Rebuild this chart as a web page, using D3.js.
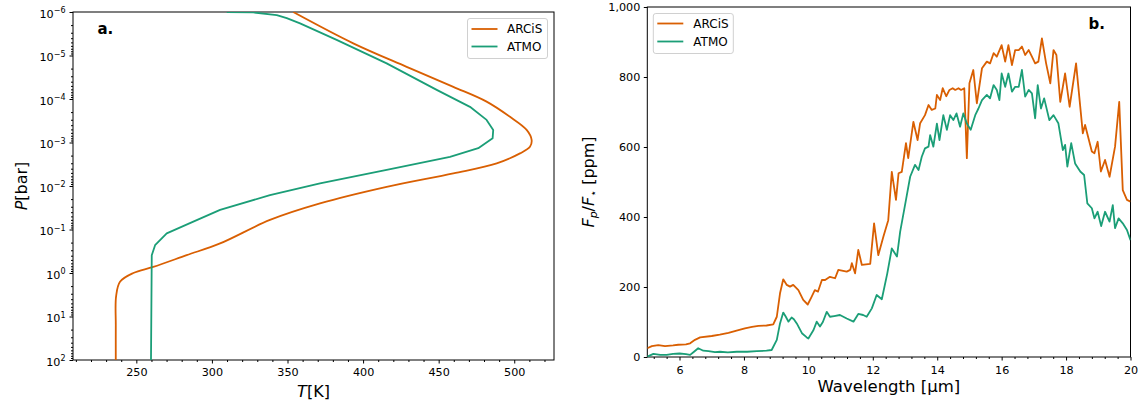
<!DOCTYPE html>
<html><head><meta charset="utf-8">
<script src="https://cdn.jsdelivr.net/npm/d3@7"></script>
<style>body{margin:0;background:#fff} text{font-family:"DejaVu Sans",sans-serif;fill:#000}</style>
</head><body><svg id="c" width="1143" height="408"></svg>
<script>
const seriesNames = ["ARCiS", "ATMO"];
const seriesColors = ["#d95f02", "#1b9e77"];

// Panel a: pressure-temperature profiles (T in K, log10 P in bar)
const arcisT    = [353.8, 393.5, 428.8, 459.7, 481.7, 497.2, 508.2, 511.5, 510.4, 503.8, 488.4, 459.7, 415.6, 371.5, 338.4, 305.4, 283.3, 261.2, 248.0, 239.2, 236.6, 236.4, 236.4];
const arcisLogP = [-6.0, -5.28, -4.74, -4.28, -3.94, -3.59, -3.29, -3.06, -2.90, -2.75, -2.52, -2.29, -1.98, -1.60, -1.22, -0.68, -0.41, -0.14, 0.0, 0.20, 0.54, 1.2, 2.0];
const atmoT     = [309.8, 327.4, 342.9, 349.5, 358.3, 382.5, 415.6, 448.7, 470.7, 481.7, 486.1, 485.7, 476.2, 457.5, 415.6, 371.5, 338.4, 305.4, 287.7, 270.1, 262.4, 260.2, 259.7];
const atmoLogP  = [-6.0, -5.99, -5.93, -5.86, -5.74, -5.36, -4.82, -4.21, -3.82, -3.52, -3.29, -3.10, -2.87, -2.67, -2.37, -2.06, -1.79, -1.45, -1.18, -0.91, -0.64, -0.41, 2.0];

// Panel b: emission spectra (wavelength in µm, Fp/F* in ppm)
const arcisWl = [5.0, 5.14, 5.34, 5.55, 5.8, 5.96, 6.2, 6.33, 6.48, 6.64, 7.0, 7.25, 7.52, 7.8, 8.03, 8.25, 8.45, 8.7, 8.91, 9.02, 9.12, 9.22, 9.33, 9.43, 9.53, 9.69, 9.84, 9.98, 10.1, 10.2, 10.3, 10.42, 10.52, 10.67, 10.83, 10.93, 11.19, 11.3, 11.35, 11.45, 11.55, 11.66, 11.92, 12.04, 12.17, 12.33, 12.48, 12.59, 12.72, 12.8, 12.9, 13.03, 13.1, 13.26, 13.39, 13.47, 13.62, 13.73, 13.83, 13.94, 13.99, 14.09, 14.17, 14.28, 14.38, 14.48, 14.56, 14.66, 14.74, 14.84, 14.92, 15.0, 15.12, 15.23, 15.39, 15.54, 15.64, 15.75, 15.85, 16.0, 16.11, 16.21, 16.32, 16.42, 16.53, 16.63, 16.73, 16.84, 16.94, 17.04, 17.14, 17.25, 17.38, 17.51, 17.61, 17.7, 17.82, 17.97, 18.11, 18.31, 18.52, 18.59, 18.8, 18.88, 18.98, 19.08, 19.21, 19.35, 19.52, 19.65, 19.76, 19.89, 20.0];
const arcisFlux = [25, 31, 34, 31, 33, 35, 36, 39, 49, 56, 60, 64, 69, 76, 82, 86, 89, 90, 93, 115, 182, 222, 206, 201, 206, 191, 163, 150, 172, 191, 187, 220, 220, 229, 225, 249, 244, 249, 268, 239, 306, 263, 266, 382, 291, 344, 391, 529, 449, 525, 529, 611, 568, 672, 620, 668, 691, 720, 706, 710, 749, 734, 768, 745, 763, 768, 763, 768, 763, 768, 568, 782, 820, 725, 825, 844, 839, 868, 858, 891, 844, 891, 834, 877, 877, 887, 863, 877, 858, 839, 844, 910, 839, 782, 877, 863, 729, 810, 715, 839, 639, 663, 587, 582, 615, 530, 563, 515, 601, 729, 477, 449, 444];
const atmoWl = [5.0, 5.19, 5.4, 5.6, 5.8, 6.0, 6.2, 6.33, 6.45, 6.58, 6.74, 6.9, 7.1, 7.26, 7.5, 7.78, 8.1, 8.4, 8.7, 8.86, 9.02, 9.12, 9.22, 9.3, 9.38, 9.48, 9.55, 9.64, 9.8, 9.95, 10.0, 10.16, 10.26, 10.36, 10.45, 10.57, 10.67, 10.8, 10.98, 11.19, 11.4, 11.55, 11.7, 11.81, 11.97, 12.12, 12.28, 12.45, 12.59, 12.75, 12.85, 13.03, 13.16, 13.31, 13.42, 13.52, 13.62, 13.73, 13.78, 13.88, 13.99, 14.07, 14.19, 14.3, 14.4, 14.5, 14.6, 14.71, 14.81, 14.92, 15.04, 15.18, 15.28, 15.39, 15.54, 15.64, 15.75, 15.85, 15.93, 16.0, 16.11, 16.21, 16.32, 16.42, 16.53, 16.63, 16.73, 16.84, 16.94, 17.04, 17.12, 17.22, 17.32, 17.48, 17.61, 17.76, 17.9, 17.97, 18.04, 18.16, 18.28, 18.44, 18.56, 18.66, 18.8, 18.88, 18.98, 19.09, 19.21, 19.35, 19.45, 19.52, 19.63, 19.76, 19.89, 20.0];
const atmoFlux = [1, 9, 6, 6, 9, 10, 8, 6, 15, 25, 18, 17, 14, 15, 13, 15, 15, 17, 18, 20, 49, 96, 127, 115, 101, 113, 108, 96, 68, 56, 53, 77, 101, 87, 100, 129, 115, 117, 120, 110, 101, 123, 120, 115, 139, 177, 165, 239, 310, 287, 358, 449, 515, 549, 534, 572, 596, 601, 634, 601, 667, 620, 691, 649, 691, 677, 696, 658, 696, 667, 649, 691, 710, 734, 749, 739, 777, 763, 734, 810, 772, 810, 758, 772, 772, 820, 744, 763, 753, 682, 777, 710, 739, 677, 691, 668, 591, 606, 544, 611, 553, 530, 520, 439, 425, 396, 415, 374, 415, 387, 434, 368, 396, 382, 363, 334];

// Tick labels
const tempTicks = [250, 300, 350, 400, 450, 500];
const pressureTicks = [1e-6, 1e-5, 1e-4, 1e-3, 1e-2, 1e-1, 1e0, 1e1, 1e2];
const pressureExp = ["\u22126", "\u22125", "\u22124", "\u22123", "\u22122", "\u22121", "0", "1", "2"];
const wlTicks = [6, 8, 10, 12, 14, 16, 18, 20];
const fluxTicks = [0, 200, 400, 600, 800, 1000];
const fluxTickLabels = ["0", "200", "400", "600", "800", "1,000"];

const svg = d3.select("#c");
const tickFont = 11.2;
const lw = 1.8;

// ---------- Panel a ----------
const ax = {l: 73, r: 554, t: 12, b: 360};
const xT = d3.scaleLinear().domain([208.1, 526.3]).range([ax.l, ax.r]);
const yP = d3.scaleLog().domain([1e-6, 1e2]).range([ax.t, ax.b]);

svg.append("clipPath").attr("id", "clipA").append("rect")
  .attr("x", ax.l).attr("y", ax.t).attr("width", ax.r - ax.l).attr("height", ax.b - ax.t);

const minorT = d3.range(210, 526, 10).filter(v => v % 50 !== 0);
svg.append("g").attr("transform", `translate(0,${ax.b})`)
  .call(d3.axisBottom(xT).tickValues(minorT).tickSize(2).tickFormat("").tickSizeOuter(0))
  .call(g => g.select(".domain").remove());
svg.append("g").attr("transform", `translate(0,${ax.b})`)
  .call(d3.axisBottom(xT).tickValues(tempTicks).tickSize(3.5).tickPadding(5).tickSizeOuter(0))
  .call(g => g.select(".domain").remove())
  .call(g => g.selectAll("text").attr("font-size", tickFont).attr("font-family", "DejaVu Sans"));

const minorP = [];
for (let e = -6; e < 2; e++) for (let m = 2; m <= 9; m++) minorP.push(m * Math.pow(10, e));
svg.append("g").attr("transform", `translate(${ax.l},0)`)
  .call(d3.axisLeft(yP).tickValues(minorP).tickSize(2).tickFormat("").tickSizeOuter(0))
  .call(g => g.select(".domain").remove());
svg.append("g").attr("transform", `translate(${ax.l},0)`)
  .call(d3.axisLeft(yP).tickValues(pressureTicks).tickSize(3.5).tickPadding(4).tickFormat("").tickSizeOuter(0))
  .call(g => g.select(".domain").remove())
  .call(g => g.selectAll(".tick text").each(function(d, i) {
    const t = d3.select(this).attr("font-size", tickFont).attr("font-family", "DejaVu Sans").attr("dy", "0.45em");
    t.append("tspan").text("10");
    t.append("tspan").attr("dy", "-0.55em").attr("font-size", 8).text(pressureExp[i]);
  }));

svg.append("rect").attr("x", ax.l).attr("y", ax.t).attr("width", ax.r - ax.l).attr("height", ax.b - ax.t)
  .attr("fill", "none").attr("stroke", "#000").attr("stroke-width", 1);

const profA = [
  arcisT.map((t, i) => [t, Math.pow(10, arcisLogP[i])]),
  atmoT.map((t, i) => [t, Math.pow(10, atmoLogP[i])])
];
const gA = svg.append("g").attr("clip-path", "url(#clipA)");
profA.forEach((pts, k) => {
  const line = d3.line().x(d => xT(d[0])).y(d => yP(d[1]))
    .curve(k === 0 ? d3.curveCatmullRom.alpha(0.5) : d3.curveLinear);
  gA.append("path").attr("d", line(pts)).attr("fill", "none")
    .attr("stroke", seriesColors[k]).attr("stroke-width", lw).attr("stroke-linejoin", "round");
});

svg.append("text").attr("x", (ax.l + ax.r) / 2).attr("y", 397).attr("text-anchor", "middle").attr("font-size", 16)
  .call(t => { t.append("tspan").attr("font-style", "italic").text("T"); t.append("tspan").text("[K]"); });
svg.append("text").attr("transform", `translate(27,${(ax.t + ax.b) / 2}) rotate(-90)`).attr("text-anchor", "middle").attr("font-size", 16)
  .call(t => { t.append("tspan").attr("font-style", "italic").text("P"); t.append("tspan").text("[bar]"); });
svg.append("text").attr("x", 97.5).attr("y", 33.5).attr("font-size", 15).attr("font-weight", "bold").text("a.");

function legend(x0, y0, w, h, lx1, lx2, tx, ys) {
  svg.append("rect").attr("x", x0).attr("y", y0).attr("width", w).attr("height", h).attr("rx", 2.5)
    .attr("fill", "#fff").attr("fill-opacity", 0.8).attr("stroke", "#d0d0d0").attr("stroke-width", 1);
  seriesNames.forEach((n, i) => {
    svg.append("line").attr("x1", lx1).attr("x2", lx2).attr("y1", ys[i]).attr("y2", ys[i])
      .attr("stroke", seriesColors[i]).attr("stroke-width", lw);
    svg.append("text").attr("x", tx).attr("y", ys[i] + 4.3).attr("font-size", 12).text(n);
  });
}
legend(467.5, 18.5, 80, 40, 471.5, 497.5, 507, [29, 46.5]);

// ---------- Panel b ----------
const bx = {l: 647.3, r: 1130.5, t: 7, b: 357};
const xW = d3.scaleLinear().domain([5, 20]).range([bx.l, bx.r]);
const yF = d3.scaleLinear().domain([0, 1000]).range([bx.b, bx.t]);

svg.append("clipPath").attr("id", "clipB").append("rect")
  .attr("x", bx.l).attr("y", bx.t).attr("width", bx.r - bx.l).attr("height", bx.b - bx.t);

const minorW = d3.range(0, 38).map(i => +(5.2 + i * 0.4).toFixed(1)).filter(v => v <= 20 && Math.abs(v / 2 - Math.round(v / 2)) > 1e-6);
svg.append("g").attr("transform", `translate(0,${bx.b})`)
  .call(d3.axisBottom(xW).tickValues(minorW).tickSize(2).tickFormat("").tickSizeOuter(0))
  .call(g => g.select(".domain").remove());
svg.append("g").attr("transform", `translate(0,${bx.b})`)
  .call(d3.axisBottom(xW).tickValues(wlTicks).tickSize(3.5).tickPadding(5.5).tickFormat(d3.format("d")).tickSizeOuter(0))
  .call(g => g.select(".domain").remove())
  .call(g => g.selectAll("text").attr("font-size", tickFont).attr("font-family", "DejaVu Sans"));
svg.append("g").attr("transform", `translate(${bx.l},0)`)
  .call(d3.axisLeft(yF).tickValues(fluxTicks).tickSize(3.5).tickPadding(3.5).tickFormat((d, i) => fluxTickLabels[i]).tickSizeOuter(0))
  .call(g => g.select(".domain").remove())
  .call(g => g.selectAll("text").attr("font-size", tickFont).attr("font-family", "DejaVu Sans"));

svg.append("rect").attr("x", bx.l).attr("y", bx.t).attr("width", bx.r - bx.l).attr("height", bx.b - bx.t)
  .attr("fill", "none").attr("stroke", "#000").attr("stroke-width", 1);

const specB = [
  arcisWl.map((w, i) => [w, arcisFlux[i]]),
  atmoWl.map((w, i) => [w, atmoFlux[i]])
];
const gB = svg.append("g").attr("clip-path", "url(#clipB)");
specB.forEach((pts, k) => {
  const line = d3.line().x(d => xW(d[0])).y(d => yF(d[1]));
  gB.append("path").attr("d", line(pts)).attr("fill", "none")
    .attr("stroke", seriesColors[k]).attr("stroke-width", lw).attr("stroke-linejoin", "round");
});

svg.append("text").attr("x", (bx.l + bx.r) / 2).attr("y", 392).attr("text-anchor", "middle").attr("font-size", 16.5)
  .text("Wavelength  [\u00b5m]");
svg.append("text").attr("transform", `translate(594,${(bx.t + bx.b) / 2}) rotate(-90)`).attr("text-anchor", "middle").attr("font-size", 16)
  .call(t => {
    t.append("tspan").attr("font-style", "italic").text("F");
    t.append("tspan").attr("font-style", "italic").attr("font-size", 11).attr("dy", 3).text("p");
    t.append("tspan").attr("dy", -3).text("/");
    t.append("tspan").attr("font-style", "italic").text("F");
    t.append("tspan").attr("font-size", 11).attr("dy", 3).text("\u22c6");
    t.append("tspan").attr("dy", -3).text("  [ppm]");
  });
svg.append("text").attr("x", 1088.5).attr("y", 29).attr("font-size", 15).attr("font-weight", "bold").text("b.");

legend(653.3, 13.5, 80, 40, 657.3, 683.3, 693.3, [23.5, 41.5]);
</script></body></html>
